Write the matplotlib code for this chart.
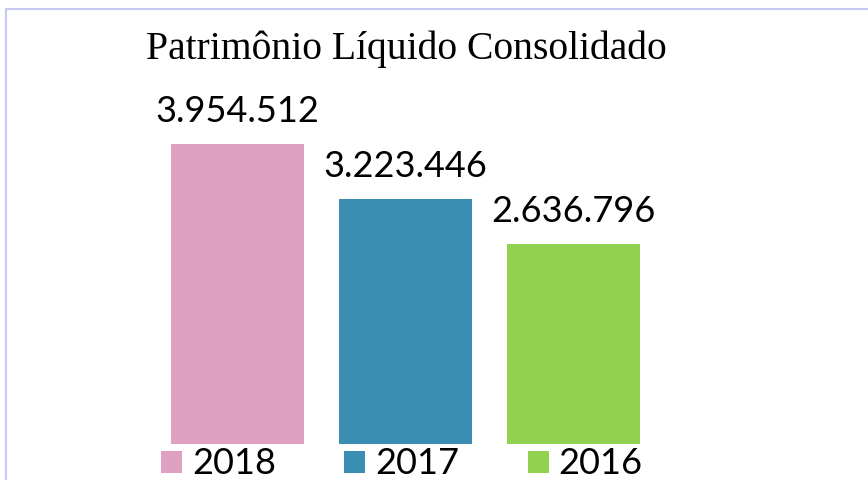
import matplotlib
matplotlib.use('Agg')
import matplotlib.pyplot as plt
from matplotlib.lines import Line2D

years = ['2018', '2017', '2016']
values = [3954512, 3223446, 2636796]
labels = ['3.954.512', '3.223.446', '2.636.796']
colors = ['#e0a0c2', '#398eb1', '#93d151']

W, H = 868, 480
fig = plt.figure(figsize=(W / 100, H / 100), dpi=100)
fig.patch.set_facecolor('white')

# axes: baseline at 444px from top, scale from the tallest bar
px_per_unit = 300 / values[0]
ax = fig.add_axes([0, 36 / H, 1, 444 / H])
ax.set_ylim(0, 444 / px_per_unit)
ax.set_xlim(-237.5 / 168, (W - 237.5) / 168)
ax.axis('off')

x = range(len(years))
bars = ax.bar(x, values, width=0.79, color=colors, label=years)
for xi, v, lab in zip(x, values, labels):
    ax.annotate(lab, (xi, v), xytext=(0, 16), textcoords='offset pixels',
                ha='center', va='bottom', fontsize=26, family='Lato')

fig.text(406.5 / W, 1 - 49 / H, 'Patrimônio Líquido Consolidado',
         ha='center', va='center', fontsize=28.5, family='Liberation Serif')

# legend at the bottom edge
fig.legend(bars, years, loc='center', bbox_to_anchor=(402 / W, 16 / H),
           ncol=3, frameon=False, prop={'family': 'Lato', 'size': 26},
           handlelength=0.58, handleheight=0.58, handletextpad=0.28,
           columnspacing=1.89, borderpad=0, borderaxespad=0)

# thin lavender frame at top and left
fig.add_artist(Line2D([5.5 / W, 5.5 / W], [0, 1 - 8.5 / H], color='#c8c8f5',
                      lw=1.5, transform=fig.transFigure))
fig.add_artist(Line2D([5.5 / W, 1], [1 - 8.5 / H, 1 - 8.5 / H], color='#c8c8f5',
                      lw=1.5, transform=fig.transFigure))

fig.savefig('out.png', dpi=100)
